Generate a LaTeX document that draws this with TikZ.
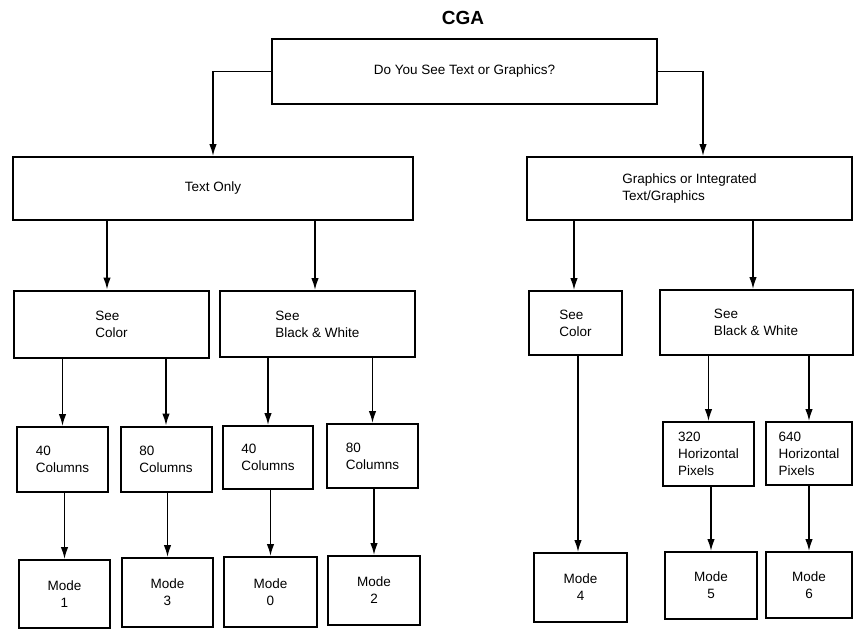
\documentclass[tikz,border=0pt]{standalone}
\usepackage{fontspec}
\setmainfont{Liberation Sans}
\usetikzlibrary{arrows.meta}

\begin{document}
\begin{tikzpicture}[x=1pt,y=-1pt,
  box/.style={draw,line width=2pt,align=left,inner sep=2pt,
    font=\fontsize{13.5}{17}\selectfont},
  small/.style={box,minimum width=91pt,minimum height=65pt},
  modebox/.style={box,align=center,minimum width=91pt,minimum height=68pt},
  arr/.style={line width=1.5pt,-{Latex[length=12pt,width=7.5pt]}}]
  \useasboundingbox (0,0) rectangle (854,629);

  \node[font=\fontsize{19}{21}\selectfont\bfseries] (title) at (463,18) {CGA};
  \node[box,minimum width=385pt,minimum height=65pt] (question) at (464.5,71.5) {Do You See Text or Graphics?};

  % second row
  \node[box,minimum width=400pt,minimum height=63pt] (textonly) at (213,188.5) {Text Only};
  \node[box,minimum width=325pt,minimum height=63pt] (graphics) at (689.5,188.5) {Graphics or Integrated\\Text/Graphics};

  % third row
  \node[box,minimum width=195pt,minimum height=67pt] (txtcolor) at (111.5,324) {See\\Color};
  \node[box,minimum width=195pt,minimum height=66pt] (txtbw) at (317.5,324) {See\\Black \& White};
  \node[box,minimum width=93pt,minimum height=64pt] (gfxcolor) at (575.5,323) {See\\Color};
  \node[box,minimum width=193pt,minimum height=65pt] (gfxbw) at (756,322.5) {See\\Black \& White};

  % fourth row
  \node[small] (col40a) at (62.5,459.5) {40\\Columns};
  \node[small] (col80a) at (166,459) {80\\Columns};
  \node[small,minimum width=90pt,minimum height=63pt] (col40b) at (268,457.5) {40\\Columns};
  \node[small,minimum height=64pt] (col80b) at (372.5,456) {80\\Columns};
  \node[small,minimum height=64pt] (px320) at (708.5,454) {320\\Horizontal\\Pixels};
  \node[small,minimum width=86pt,minimum height=63pt] (px640) at (809,453.5) {640\\Horizontal\\Pixels};

  % modes
  \node[modebox] (mode1) at (64.5,594) {Mode\\1};
  \node[modebox,minimum height=69pt] (mode3) at (167.5,592.5) {Mode\\3};
  \node[modebox,minimum width=93pt,minimum height=70pt] (mode0) at (270.5,592) {Mode\\0};
  \node[modebox,minimum width=92pt,minimum height=69pt] (mode2) at (374,590.5) {Mode\\2};
  \node[modebox,minimum width=93pt,minimum height=69pt] (mode4) at (580.5,587.5) {Mode\\4};
  \node[modebox,minimum width=92pt,minimum height=67pt] (mode5) at (711,585.5) {Mode\\5};
  \node[modebox,minimum width=86pt,minimum height=66pt] (mode6) at (809,585) {Mode\\6};

  \draw[arr] (question.west) -| (textonly.north);
  \draw[arr] (question.east) -| ([xshift=13.5pt]graphics.north);

  \draw[arr] ([xshift=-4.5pt]txtcolor.north |- textonly.south) -- ([xshift=-4.5pt]txtcolor.north);
  \draw[arr] ([xshift=-2.5pt]txtbw.north |- textonly.south) -- ([xshift=-2.5pt]txtbw.north);
  \draw[arr] ([xshift=-1.5pt]gfxcolor.north |- graphics.south) -- ([xshift=-1.5pt]gfxcolor.north);
  \draw[arr] ([xshift=-3pt]gfxbw.north |- graphics.south) -- ([xshift=-3pt]gfxbw.north);

  \draw[arr] (col40a.north |- txtcolor.south) -- (col40a.north);
  \draw[arr] (col80a.north |- txtcolor.south) -- (col80a.north);
  \draw[arr] (col40b.north |- txtbw.south) -- (col40b.north);
  \draw[arr] (col80b.north |- txtbw.south) -- (col80b.north);
  \draw[arr] (px320.north |- gfxbw.south) -- (px320.north);
  \draw[arr] (px640.north |- gfxbw.south) -- (px640.north);

  \draw[arr] (mode1.north |- col40a.south) -- (mode1.north);
  \draw[arr] (mode3.north |- col80a.south) -- (mode3.north);
  \draw[arr] (mode0.north |- col40b.south) -- (mode0.north);
  \draw[arr] (mode2.north |- col80b.south) -- (mode2.north);
  \draw[arr] ([xshift=-2.5pt]mode4.north |- gfxcolor.south) -- ([xshift=-2.5pt]mode4.north);
  \draw[arr] (mode5.north |- px320.south) -- (mode5.north);
  \draw[arr] (mode6.north |- px640.south) -- (mode6.north);
\end{tikzpicture}
\end{document}
